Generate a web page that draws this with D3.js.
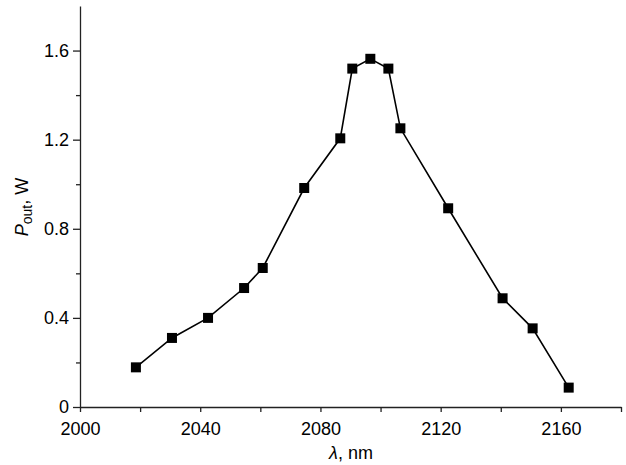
<!DOCTYPE html>
<html lang="en">
<head>
	<meta charset="utf-8">
	<script src="https://d3js.org/d3.v7.min.js"></script>
	<style>
		body { margin: 0; background: #fff; }
		text { font-family: "Liberation Sans", Arial, sans-serif; fill: #000; }
	</style>
	<title>Pout vs wavelength</title>
</head>
<body>
	<script type="text/javascript">
		// Data
		var wavelength = [2018.6, 2030.6, 2042.6, 2054.6, 2060.8, 2074.6, 2086.6, 2090.6, 2096.6, 2102.6, 2106.6, 2122.5, 2140.6, 2150.6, 2162.6];
		var power = [0.178, 0.31, 0.40, 0.534, 0.624, 0.983, 1.206, 1.519, 1.563, 1.519, 1.251, 0.892, 0.488, 0.353, 0.087];

		var xTicks = [2000, 2040, 2080, 2120, 2160];
		var xMinor = [2020, 2060, 2100, 2140, 2180];
		var yTicks = [0, 0.4, 0.8, 1.2, 1.6];
		var yMinor = [0.2, 0.6, 1.0, 1.4];

		var width = 626;
		var height = 465;

		var x = d3.scaleLinear().domain([2000, 2180]).range([80, 621]);
		var y = d3.scaleLinear().domain([0, 1.8]).range([407, 6]);

		var svg = d3.select("body")
			.append("svg")
			.attr("width", width)
			.attr("height", height);

		// x axis
		var gx = svg.append("g").attr("transform", "translate(0,407)");
		gx.call(d3.axisBottom(x).tickValues(xTicks).tickSize(5).tickSizeOuter(0).tickFormat(d3.format("d")));
		gx.append("g").call(d3.axisBottom(x).tickValues(xMinor).tickSize(5).tickSizeOuter(0).tickFormat(""))
			.select(".domain").remove();

		// y axis
		var gy = svg.append("g").attr("transform", "translate(80,0)");
		gy.call(d3.axisLeft(y).tickValues(yTicks).tickSize(7).tickSizeOuter(0)
			.tickFormat(function(d) { return d === 0 ? "0" : d3.format(".1f")(d); }));
		gy.append("g").call(d3.axisLeft(y).tickValues(yMinor).tickSize(4).tickSizeOuter(0).tickFormat(""))
			.select(".domain").remove();

		svg.selectAll(".domain, .tick line")
			.attr("stroke", "#222")
			.attr("stroke-width", 1.3);

		svg.selectAll("g").attr("font-family", null).attr("font-size", null);

		gx.selectAll(".tick text")
			.attr("font-size", 18)
			.attr("y", 15);
		gy.selectAll(".tick text")
			.attr("font-size", 18)
			.attr("x", -11);

		// axis titles
		var xl = svg.append("text")
			.attr("x", 351)
			.attr("y", 459)
			.attr("text-anchor", "middle")
			.attr("font-size", 18);
		xl.append("tspan").attr("font-style", "italic").text("λ");
		xl.append("tspan").text(", nm");

		var yl = svg.append("text")
			.attr("transform", "translate(28,207) rotate(-90)")
			.attr("text-anchor", "middle")
			.attr("font-size", 18);
		yl.append("tspan").attr("font-style", "italic").text("P");
		yl.append("tspan").attr("font-size", 14).attr("dy", 4).text("out");
		yl.append("tspan").attr("dy", -4).text(", W");

		// line + markers
		var pts = wavelength.map(function(d, i) { return [d, power[i]]; });

		var line = d3.line()
			.x(function(d) { return x(d[0]); })
			.y(function(d) { return y(d[1]); });

		svg.append("path")
			.datum(pts)
			.attr("d", line)
			.attr("fill", "none")
			.attr("stroke", "#000")
			.attr("stroke-width", 1.6);

		svg.selectAll("rect.pt")
			.data(pts)
			.enter()
			.append("rect")
			.attr("class", "pt")
			.attr("x", function(d) { return x(d[0]) - 5; })
			.attr("y", function(d) { return y(d[1]) - 5; })
			.attr("width", 10)
			.attr("height", 10)
			.attr("fill", "#000");
	</script>
</body>
</html>
